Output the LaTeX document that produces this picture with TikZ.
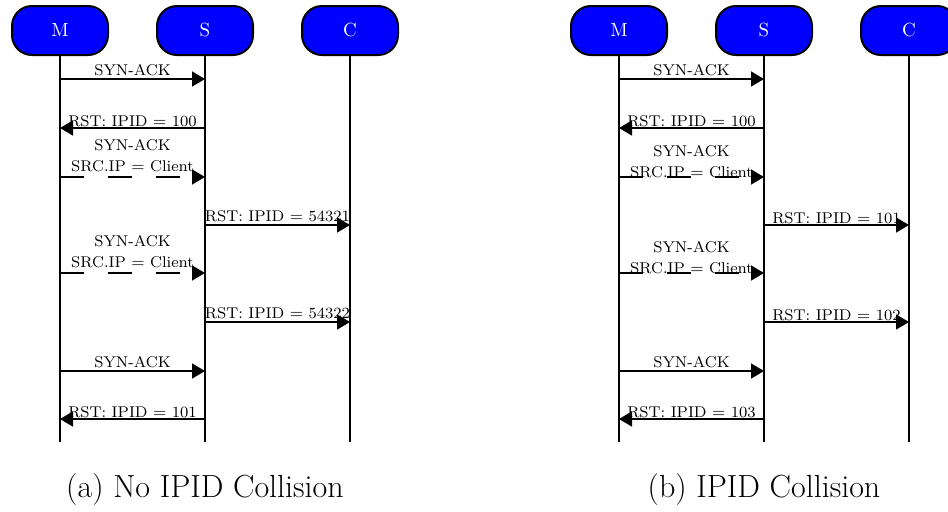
\documentclass[tikz,border=0pt]{standalone}
\usepackage{tikz}
\usetikzlibrary{arrows.meta}
\definecolor{actorblue}{RGB}{0,0,255}

\begin{document}
\begin{tikzpicture}[x=0.5pt,y=-0.5pt,>={Triangle[length=6.5pt,width=7.5pt]},
 actor/.style={draw=black,line width=1pt,fill=actorblue,rounded corners=10pt,minimum width=48pt,minimum height=24.5pt,text=white,font=\fontsize{9.5}{11}\selectfont},
 life/.style={line width=0.8pt},
 msg/.style={->,line width=0.8pt},
 spoof/.style={msg,dash pattern=on 12pt off 12pt},
 lbl/.style={font=\fontsize{7.8}{10.5}\selectfont,inner sep=1pt,align=center},
 subcap/.style={font=\fontsize{16}{18}\selectfont}]
 \useasboundingbox (0,0) rectangle (948,511);

 % (a) no collision
 \node[actor] (aM) at (60,30.5) {M};
 \node[actor] (aS) at (205,30.5) {S};
 \node[actor] (aC) at (350,30.5) {C};
 \foreach \a in {aM,aS,aC} {
  \coordinate (\a end) at (\a |- 0,442);
  \draw[life] (\a.south) -- (\a end);
 }
 \draw[msg] (aM |- 0,79) -- node[lbl,above]{SYN-ACK} (aS |- 0,79);
 \draw[msg] (aS |- 0,128) -- node[lbl,above,inner sep=0pt]{RST: IPID $=$ 100} (aM |- 0,128);
 \draw[spoof] (aM |- 0,177) -- node[lbl,above,inner sep=2pt]{SYN-ACK\\SRC.IP $=$ Client} (aS |- 0,177);
 \draw[msg] (aS |- 0,225) -- node[lbl,above]{RST: IPID $=$ 54321} (aC |- 0,225);
 \draw[spoof] (aM |- 0,273) -- node[lbl,above,inner sep=2pt]{SYN-ACK\\SRC.IP $=$ Client} (aS |- 0,273);
 \draw[msg] (aS |- 0,322) -- node[lbl,above]{RST: IPID $=$ 54322} (aC |- 0,322);
 \draw[msg] (aM |- 0,371) -- node[lbl,above]{SYN-ACK} (aS |- 0,371);
 \draw[msg] (aS |- 0,419) -- node[lbl,above,inner sep=0pt]{RST: IPID $=$ 101} (aM |- 0,419);
 \node[subcap] (capa) at (205,490) {(a) No IPID Collision};

 % (b) collision
 \node[actor] (bM) at (619,30.5) {M};
 \node[actor] (bS) at (764,30.5) {S};
 \node[actor] (bC) at (909,30.5) {C};
 \foreach \b in {bM,bS,bC} {
  \coordinate (\b end) at (\b |- 0,442);
  \draw[life] (\b.south) -- (\b end);
 }
 \draw[msg] (bM |- 0,79) -- node[lbl,above]{SYN-ACK} (bS |- 0,79);
 \draw[msg] (bS |- 0,128) -- node[lbl,above,inner sep=0pt]{RST: IPID $=$ 100} (bM |- 0,128);
 \draw[spoof] (bM |- 0,177) -- node[lbl,above,inner sep=-1pt]{SYN-ACK\\SRC.IP $=$ Client} (bS |- 0,177);
 \draw[msg] (bS |- 0,225) -- node[lbl,above,inner sep=0pt]{RST: IPID $=$ 101} (bC |- 0,225);
 \draw[spoof] (bM |- 0,273) -- node[lbl,above,inner sep=-1pt]{SYN-ACK\\SRC.IP $=$ Client} (bS |- 0,273);
 \draw[msg] (bS |- 0,322) -- node[lbl,above,inner sep=0pt]{RST: IPID $=$ 102} (bC |- 0,322);
 \draw[msg] (bM |- 0,371) -- node[lbl,above]{SYN-ACK} (bS |- 0,371);
 \draw[msg] (bS |- 0,419) -- node[lbl,above,inner sep=0pt]{RST: IPID $=$ 103} (bM |- 0,419);
 \node[subcap] (capb) at (764,490) {(b) IPID Collision};
\end{tikzpicture}
\end{document}
